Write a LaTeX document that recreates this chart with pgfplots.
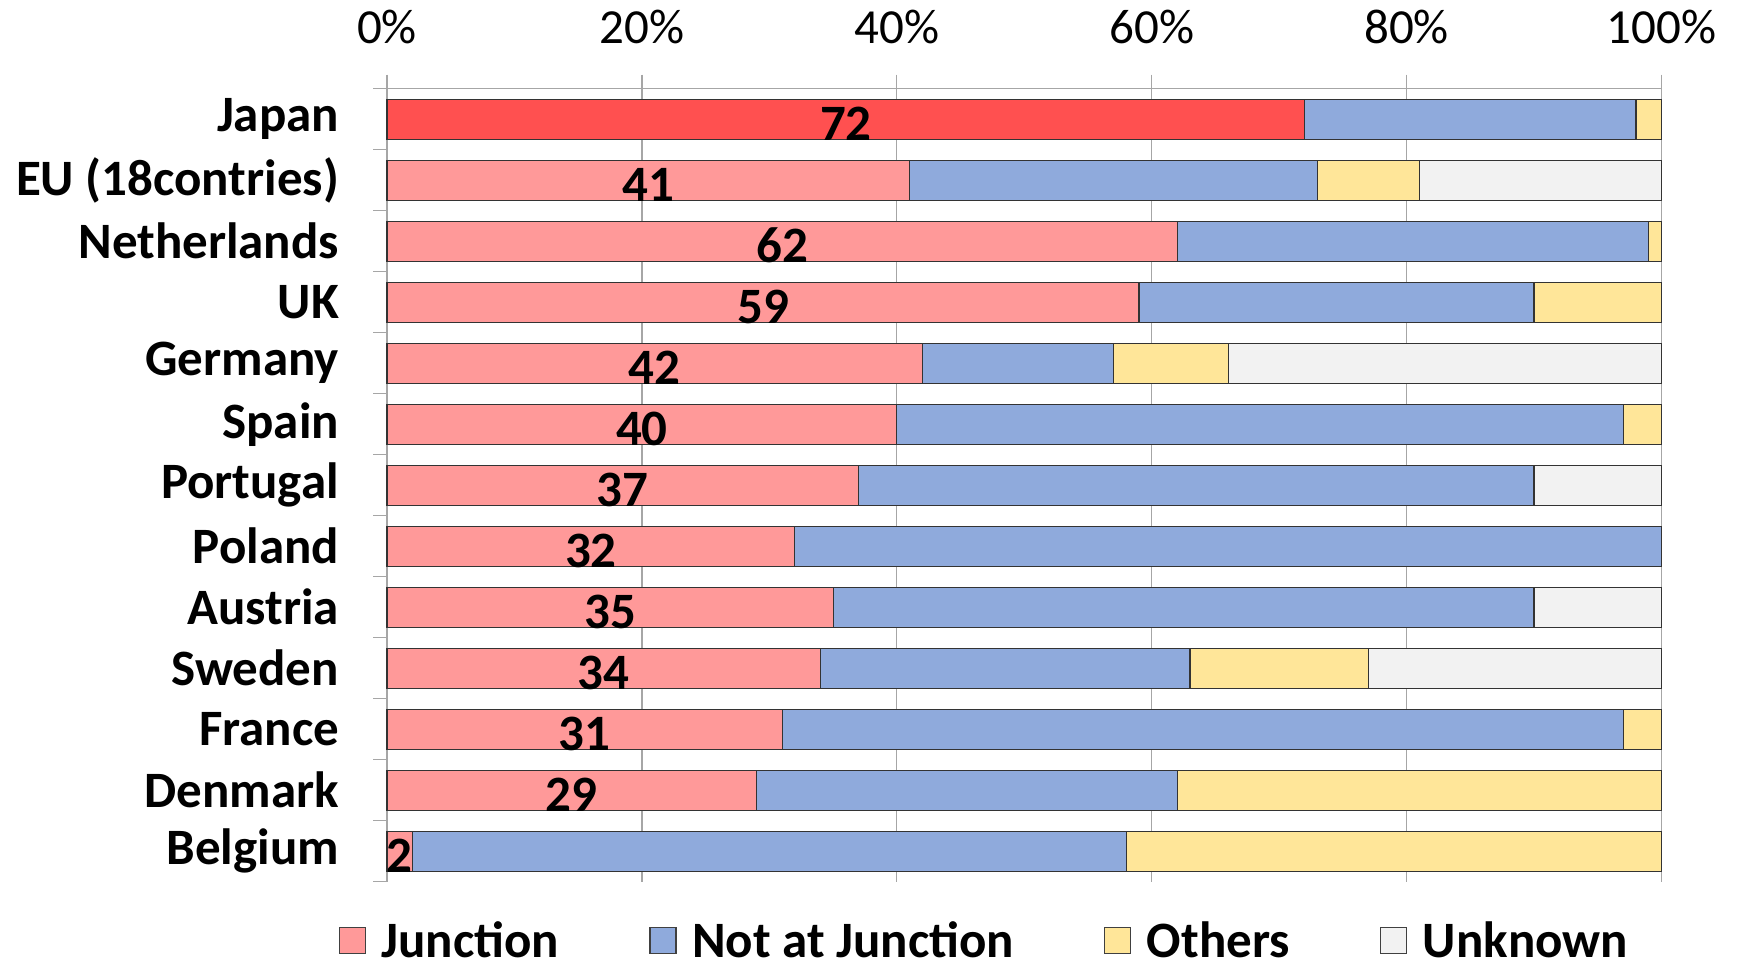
\documentclass[border=0pt]{standalone}
\usepackage{fontspec}
\setmainfont{Carlito}
\usepackage{pgfplots}
\pgfplotsset{compat=1.18}
\usepackage{pgfplotstable}

\definecolor{junc}{HTML}{FF9999}
\definecolor{juncjp}{HTML}{FF5050}
\definecolor{notjunc}{HTML}{8FAADC}
\definecolor{others}{HTML}{FFE699}
\definecolor{unknown}{HTML}{F2F2F2}
\definecolor{gridgray}{HTML}{A6A6A6}

% shares (%) by location; jp holds Japan's junction share, drawn in its own colour
\pgfplotstableread{
idx jp  junc notj oth unk
0   72  0    26   2   0
1   0   41   32   8   19
2   0   62   37   1   0
3   0   59   31   10  0
4   0   42   15   9   34
5   0   40   57   3   0
6   0   37   53   0   10
7   0   32   68   0   0
8   0   35   55   0   10
9   0   34   29   14  23
10  0   31   66   3   0
11  0   29   33   38  0
12  0   2    56   42  0
}\shares

\begin{document}
\begin{tikzpicture}
\begin{axis}[
  xbar stacked, bar width=20pt,
  scale only axis, width=637.25pt, height=396.5pt,
  xmin=0, xmax=100, ymin=-0.5, ymax=12.5, y dir=reverse,
  clip=false,
  axis x line*=top, axis y line*=left,
  axis line style={gridgray, line width=0.6pt},
  xtick={0,20,...,100},
  xticklabel={\pgfmathprintnumber{\tick}\%},
  xmajorgrids, grid style={gridgray, line width=0.6pt},
  tick align=outside, major tick length=7pt,
  tick style={gridgray, line width=0.6pt},
  /pgf/number format/assume math mode=true,
  xticklabel style={font=\fontsize{24.5}{24.5}\selectfont, black, yshift=12pt},
  ytick={-0.5,0.5,...,12.5}, yticklabels={},
  extra y ticks={0,...,12},
  extra y tick labels={Japan,EU (18contries),Netherlands,UK,Germany,Spain,Portugal,Poland,Austria,Sweden,France,Denmark,Belgium},
  extra y tick style={grid=none, major tick length=0pt, tick style={draw=none},
    yticklabel style={font=\bfseries\fontsize{25.5}{25.5}\selectfont, black, xshift=-20.5pt}},
  every axis plot/.append style={draw=black!80, line width=0.6pt},
  legend style={at={(axis description cs:0.468,-0.0745)}, anchor=center,
    legend columns=4, draw=none, fill=none, inner sep=0pt,
    nodes={inner sep=0pt},
    font=\bfseries\fontsize{25.5}{25.5}\selectfont,
    /tikz/every odd column/.append style={column sep=7.8pt},
    /tikz/every even column/.append style={column sep=45.1pt}},
  legend image code/.code={\draw[#1, draw=black!75, line width=0.6pt] (0pt,-6.5pt) rectangle (13pt,6.5pt);},
  nodes near coords style={font=\bfseries\fontsize{25.5}{25.5}\selectfont, black, yshift=-2.2pt},
]
\addplot[fill=junc, point meta=explicit,
  nodes near coords={\pgfmathfloatifflags{\pgfplotspointmeta}{0}{}{\pgfmathprintnumber{\pgfplotspointmeta}}}]
  table[x=junc, y=idx, meta=junc] {\shares};
\addlegendentry{Junction}
\addplot[fill=juncjp, forget plot, point meta=explicit,
  nodes near coords={\pgfmathfloatifflags{\pgfplotspointmeta}{0}{}{\pgfmathprintnumber{\pgfplotspointmeta}}}]
  table[x=jp, y=idx, meta=jp] {\shares};
\addplot[fill=notjunc] table[x=notj, y=idx] {\shares};
\addlegendentry{Not at Junction}
\addplot[fill=others] table[x=oth, y=idx] {\shares};
\addlegendentry{Others}
\addplot[fill=unknown] table[x=unk, y=idx] {\shares};
\addlegendentry{Unknown}
\path (axis description cs:-0.3037,-0.1097) rectangle (axis description cs:1.0608,1.1118);
\end{axis}
\end{tikzpicture}
\end{document}
